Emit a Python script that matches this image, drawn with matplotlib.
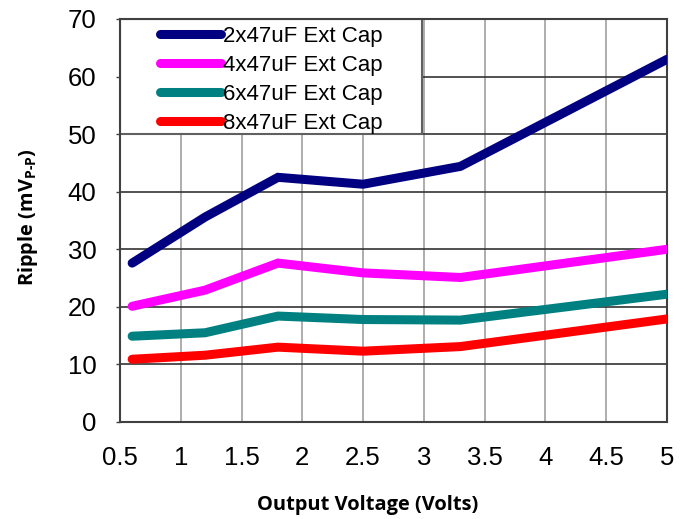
import matplotlib.pyplot as plt
from matplotlib.patches import Rectangle

# ripple vs. output voltage for each external cap config
vout = [0.6, 1.2, 1.8, 2.5, 3.3, 5.0]
cap_2x47 = [27.6, 35.6, 42.5, 41.3, 44.4, 63.0]
cap_4x47 = [20.1, 22.9, 27.6, 25.9, 25.1, 30.0]
cap_6x47 = [14.9, 15.5, 18.4, 17.8, 17.7, 22.2]
cap_8x47 = [10.9, 11.6, 13.0, 12.3, 13.1, 17.9]

labels = ["2x47uF Ext Cap", "4x47uF Ext Cap", "6x47uF Ext Cap", "8x47uF Ext Cap"]
colors = ["#000080", "#FF00FF", "#008080", "#FF0000"]

plt.rcParams["font.family"] = ["Liberation Sans", "DejaVu Sans"]
plt.rcParams["mathtext.fontset"] = "custom"
plt.rcParams["mathtext.bf"] = "Open Sans:bold"
plt.rcParams["mathtext.rm"] = "Open Sans:bold"

fig = plt.figure(figsize=(6.88, 5.19), dpi=100)
ax = fig.add_axes([0.1744, 0.1869, 0.7951, 0.7765])

for ys, lab, c in zip([cap_2x47, cap_4x47, cap_6x47, cap_8x47], labels, colors):
    ax.plot(vout, ys, color=c, lw=6.5, solid_capstyle="round",
            solid_joinstyle="miter", label=lab, zorder=3)

ax.set_xlim(0.5, 5)
ax.set_ylim(0, 70)
ax.set_xticks([0.5, 1, 1.5, 2, 2.5, 3, 3.5, 4, 4.5, 5])
ax.set_xticklabels(["0.5", "1", "1.5", "2", "2.5", "3", "3.5", "4", "4.5", "5"])
ax.set_yticks(range(0, 71, 10))

ax.xaxis.grid(True, color="#a0a0a0", lw=1.2)
ax.yaxis.grid(True, color="#333333", lw=1.2)
ax.set_axisbelow(True)
for s in ax.spines.values():
    s.set_color("#404040")
    s.set_linewidth(1.5)

ax.tick_params(axis="x", length=0, pad=17, labelsize=18.5)
ax.tick_params(axis="y", length=3, width=1, color="#404040", pad=14, labelsize=18.5)

# white box behind the legend entries
ax.add_patch(Rectangle((0, 50 / 70), 0.552, 1 - 50 / 70, transform=ax.transAxes,
                       facecolor="white", edgecolor="#606060", lw=1.5, zorder=2))
ax.legend(loc="upper left", bbox_to_anchor=(0.073, 0.982), frameon=False,
          borderaxespad=0, borderpad=0, fontsize=16, handlelength=2.75,
          handletextpad=0.1, labelspacing=0.36)

lab_font = dict(family=["Open Sans", "DejaVu Sans"], fontweight="bold", fontsize=14.4)
fig.text(0.534, 0.027, "Output Voltage (Volts)", ha="center", va="center", **lab_font)
fig.text(0.041, 0.582, r"Ripple (mV$_{\mathbf{P\text{-}P}}$)", rotation=90,
         ha="center", va="center", **lab_font)

fig.savefig("out.png", dpi=100)
